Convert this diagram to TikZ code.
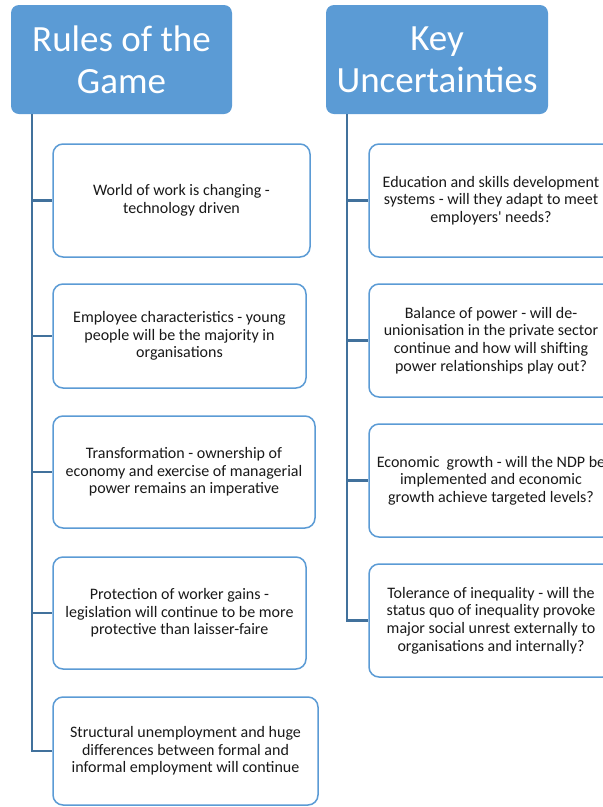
\documentclass[tikz,border=0pt]{standalone}
\usepackage{fontspec}
\setmainfont{Carlito}
\newfontfamily\plainfont{Carlito}
\usepackage{xcolor}
\definecolor{accent}{HTML}{5B9BD5}
\definecolor{spine}{HTML}{41719C}

\begin{document}
\begin{tikzpicture}[x=1pt,y=-1pt,
    head/.style={fill=accent, rounded corners=8pt, text=white, align=center, inner sep=0pt,
      font=\fontsize{37}{42}\selectfont},
    item/.style={draw=accent, line width=1.5pt, fill=white, rounded corners=10pt, align=center,
      inner sep=0pt, text=black!90, font=\fontsize{16}{17.6}\selectfont},
    link/.style={draw=spine, line width=2.5pt}]
        \def\spineL{32}
        \def\spineR{347}

        \useasboundingbox (0,0) rectangle (603,807);
        \clip (0,0) rectangle (603,807);

        \coordinate (lspine) at (\spineL,0);
        \coordinate (rspine) at (\spineR,0);

        \node[head, minimum width=221pt, minimum height=109pt] (rules) at (121.5,59.5) {Rules of the\\Game};
        \node[head, minimum width=222pt, minimum height=109pt] (unc) at (437,59.5) {Key\\Uncertainties};

        \node[item, minimum width=257pt, minimum height=113pt] (rule1) at (181.5,200.5)
            {World of work is changing -\\technology driven};
        \node[item, minimum width=253pt, minimum height=104pt] (rule2) at (179.5,336)
            {Employee characteristics - young\\people will be the majority in\\organisations};
        \node[item, minimum width=262pt, minimum height=112pt] (rule3) at (184,472)
            {Transformation - ownership of\\economy and exercise of managerial\\power remains an imperative};
        \node[item, minimum width=253pt, minimum height=112pt] (rule4) at (179.5,613)
            {Protection of worker gains -\\legislation will continue to be more\\protective than laisser-faire};
        \node[item, minimum width=265pt, minimum height=108pt] (rule5) at (185.5,751)
            {Structural unemployment and huge\\differences between formal and\\informal employment will continue};

        \node[item, minimum width=244pt, minimum height=113pt] (unc1) at (491,200.5)
            {Education and skills development\\systems - will they adapt to meet\\employers{\plainfont'} needs?};
        \node[item, minimum width=244pt, minimum height=113pt] (unc2) at (491,340.5)
            {Balance of power - will de-\\unionisation in the private sector\\continue and how will shifting\\power relationships play out?};
        \node[item, minimum width=244pt, minimum height=113pt] (unc3) at (491,480.5)
            {Economic\ \ growth - will the NDP be\\implemented and economic\\growth achieve targeted levels?};
        \node[item, minimum width=244pt, minimum height=113pt] (unc4) at (491,620.5)
            {Tolerance of inequality - will the\\status quo of inequality provoke\\major social unrest externally to\\organisations and internally?};

        \foreach \i in {1,...,5}
            \draw[link] (lspine |- rules.south) |- (rule\i.west);
        \foreach \i in {1,...,4}
            \draw[link] (rspine |- unc.south) |- (unc\i.west);
    \end{tikzpicture}
\end{document}
